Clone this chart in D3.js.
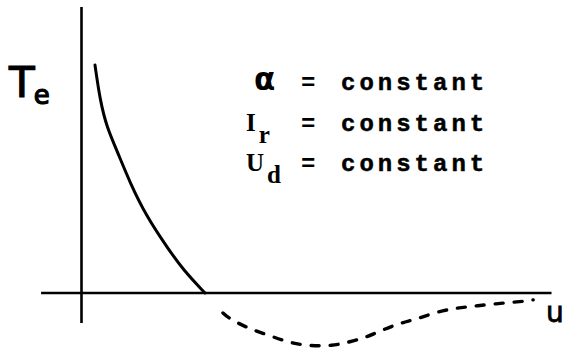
<!DOCTYPE html>
<html>
<head>
<meta charset="utf-8">
<script src="https://cdn.jsdelivr.net/npm/d3@7"></script>
<style>
  html, body { margin: 0; padding: 0; background: #fff; }
  svg { display: block; }
</style>
</head>
<body>
<script>
// Electromagnetic torque T_e versus speed u (schematic)
const solidU = [2.87, 3.94, 5.36, 7.49, 10.32, 13.87, 18.13, 21.66, 26.28];
const solidT = [79.7, 67.5, 58.1, 50.0, 38.5, 26.7, 16.2, 8.0, 0];

const dashedU = [30.1, 31.2, 35.2, 39.7, 44.4, 48.6, 53.3, 57.1, 60.7, 64.1, 67.8, 71.4, 75.6, 79.9, 84.1, 89.7, 94.8, 96.1];
const dashedT = [-7.0, -8.7, -12.2, -14.7, -17.5, -18.5, -18.5, -17.1, -15.4, -12.9, -10.5, -9.1, -6.6, -5.2, -4.5, -3.5, -2.8, -2.4];

const conditionSymbols = ["α", "I", "U"];
const conditionSubs = ["", "r", "d"];
const conditionText = "constant";

const W = 568, H = 349;
const svg = d3.select("body").append("svg").attr("width", W).attr("height", H);

const x = d3.scaleLinear().domain([0, 100]).range([81.5, 551.5]);
const y = d3.scaleLinear().domain([0, 100]).range([293, 7]);

const ink = "#000";

// axes
svg.append("line")
  .attr("x1", x(0)).attr("x2", x(0))
  .attr("y1", y(100)).attr("y2", y(-10.5))
  .attr("stroke", ink).attr("stroke-width", 2.6);
svg.append("line")
  .attr("x1", x(-8.6)).attr("x2", x(100))
  .attr("y1", y(0)).attr("y2", y(0))
  .attr("stroke", ink).attr("stroke-width", 2.4);

const curveLine = d3.line()
  .x(d => x(d[0]))
  .y(d => y(d[1]))
  .curve(d3.curveBasis);

svg.append("path")
  .datum(d3.zip(solidU, solidT))
  .attr("d", curveLine)
  .attr("fill", "none")
  .attr("stroke", ink)
  .attr("stroke-width", 3)
  .attr("stroke-linecap", "round");

svg.append("path")
  .datum(d3.zip(dashedU, dashedT))
  .attr("d", curveLine)
  .attr("fill", "none")
  .attr("stroke", ink)
  .attr("stroke-width", 3.4)
  .attr("stroke-dasharray", "8,11")
  .attr("stroke-linecap", "round");

// axis labels (hand lettered)
const te = svg.append("text")
  .attr("x", 9).attr("y", 97)
  .attr("font-family", "DejaVu Sans")
  .attr("font-size", 42)
  .attr("fill", ink).attr("stroke", ink).attr("stroke-width", 1.2);
te.append("tspan").text("T");
te.append("tspan").attr("dx", -1).attr("dy", 7).attr("font-size", 26).text("e");

svg.append("text")
  .attr("x", 546).attr("y", 322)
  .attr("font-family", "DejaVu Sans")
  .attr("font-size", 28)
  .attr("fill", ink).attr("stroke", ink).attr("stroke-width", 0.8)
  .text("u");

// conditions block
const baselines = [90, 131, 171];
conditionSymbols.forEach((s, i) => {
  const t = svg.append("text")
    .attr("x", i === 0 ? 254 : 246).attr("y", baselines[i])
    .attr("font-family", i === 0 ? "DejaVu Sans" : "Liberation Serif")
    .attr("font-weight", "bold")
    .attr("font-size", i === 0 ? 31 : 25)
    .attr("fill", ink);
  t.append("tspan").text(s);
  if (conditionSubs[i]) {
    t.append("tspan").attr("dx", 3).attr("dy", 12).attr("font-size", 25).text(conditionSubs[i]);
  }
  svg.append("text")
    .attr("x", 301).attr("y", baselines[i])
    .attr("font-family", "Liberation Mono")
    .attr("font-weight", "bold")
    .attr("font-size", 24)
    .attr("fill", ink)
    .text("=");
  svg.append("text")
    .attr("x", 341).attr("y", baselines[i])
    .attr("font-family", "Liberation Mono")
    .attr("font-weight", "bold")
    .attr("font-size", 24)
    .attr("letter-spacing", 4)
    .attr("fill", ink)
    .attr("stroke", ink).attr("stroke-width", 0.5)
    .text(conditionText);
});
</script>
</body>
</html>
